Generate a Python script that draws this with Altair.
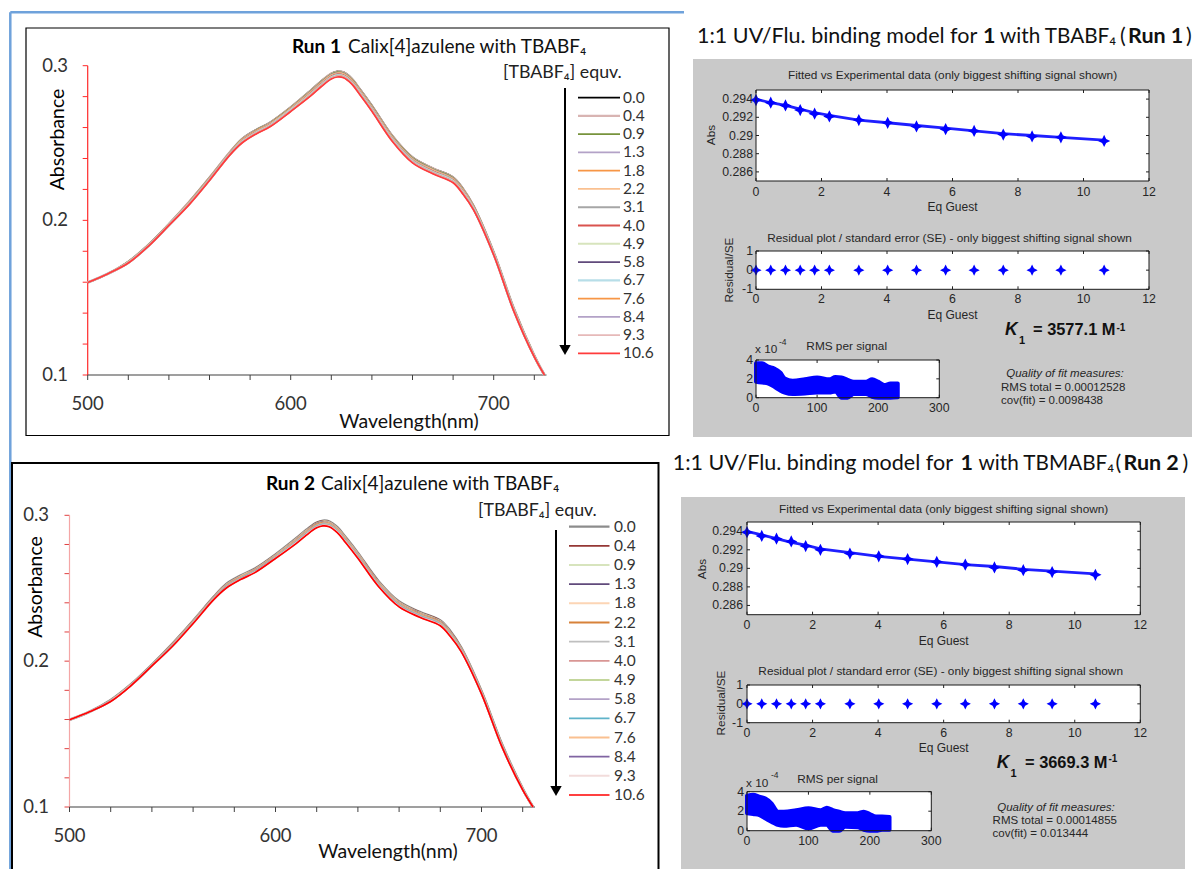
import altair as alt
import pandas as pd

W, H = 1196, 869
EFONT = "Lato, DejaVu Sans, sans-serif"
MFONT = "Liberation Sans, Arial, sans-serif"
MTXT = "#262626"
BLUE = "#0000ff"
GRAY = "#c9c9c9"
MFS = 11.8
STAR = "M0,-1L0.33,-0.33L1,0L0.33,0.33L0,1L-0.33,0.33L-1,0L-0.33,-0.33Z"

# ------------------------------------------------------------------ data
EQUIV_LABELS = ["0.0", "0.4", "0.9", "1.3", "1.8", "2.2", "3.1", "4.0", "4.9",
                "5.8", "6.7", "7.6", "8.4", "9.3", "10.6"]
WAVELENGTH = [500, 510, 520, 530, 540, 550, 560, 570, 576, 583, 590, 600, 610, 615, 620,
              623, 626, 630, 634, 640, 650, 660, 670, 680, 685, 690, 700, 710, 720, 725]
SPECTRA_RUN1 = [
    [0.1598, 0.1655, 0.1733, 0.1843, 0.1976, 0.2120, 0.2276, 0.2440, 0.2527, 0.2586, 0.2634, 0.2731, 0.2842, 0.2900, 0.2950, 0.2963, 0.2958, 0.2918, 0.2850, 0.2742, 0.2548, 0.2408, 0.2337, 0.2279, 0.2203, 0.2096, 0.1794, 0.1428, 0.1126, 0.1000],
    [0.1598, 0.1655, 0.1732, 0.1842, 0.1975, 0.2119, 0.2275, 0.2439, 0.2525, 0.2584, 0.2632, 0.2729, 0.2840, 0.2898, 0.2948, 0.2961, 0.2956, 0.2916, 0.2848, 0.2740, 0.2546, 0.2406, 0.2335, 0.2277, 0.2201, 0.2094, 0.1793, 0.1427, 0.1125, 0.1000],
    [0.1598, 0.1655, 0.1732, 0.1842, 0.1975, 0.2117, 0.2273, 0.2437, 0.2523, 0.2582, 0.2630, 0.2727, 0.2837, 0.2895, 0.2945, 0.2958, 0.2953, 0.2913, 0.2845, 0.2737, 0.2543, 0.2403, 0.2332, 0.2274, 0.2198, 0.2092, 0.1791, 0.1425, 0.1125, 0.1000],
    [0.1598, 0.1655, 0.1731, 0.1841, 0.1974, 0.2115, 0.2271, 0.2435, 0.2520, 0.2579, 0.2627, 0.2724, 0.2833, 0.2891, 0.2941, 0.2954, 0.2949, 0.2909, 0.2841, 0.2733, 0.2539, 0.2399, 0.2328, 0.2270, 0.2194, 0.2089, 0.1789, 0.1423, 0.1124, 0.1000],
    [0.1598, 0.1655, 0.1730, 0.1840, 0.1973, 0.2114, 0.2270, 0.2434, 0.2518, 0.2577, 0.2625, 0.2722, 0.2830, 0.2888, 0.2938, 0.2951, 0.2946, 0.2906, 0.2838, 0.2730, 0.2536, 0.2396, 0.2325, 0.2267, 0.2191, 0.2087, 0.1788, 0.1422, 0.1123, 0.1000],
    [0.1598, 0.1655, 0.1729, 0.1839, 0.1972, 0.2113, 0.2269, 0.2433, 0.2516, 0.2575, 0.2623, 0.2720, 0.2828, 0.2886, 0.2936, 0.2949, 0.2944, 0.2904, 0.2836, 0.2728, 0.2534, 0.2394, 0.2323, 0.2265, 0.2189, 0.2085, 0.1787, 0.1421, 0.1122, 0.1000],
    [0.1598, 0.1655, 0.1728, 0.1838, 0.1971, 0.2111, 0.2267, 0.2431, 0.2513, 0.2572, 0.2620, 0.2717, 0.2824, 0.2882, 0.2932, 0.2945, 0.2940, 0.2900, 0.2832, 0.2724, 0.2530, 0.2390, 0.2319, 0.2261, 0.2185, 0.2082, 0.1785, 0.1419, 0.1121, 0.1000],
    [0.1598, 0.1655, 0.1728, 0.1838, 0.1971, 0.2110, 0.2266, 0.2430, 0.2512, 0.2571, 0.2619, 0.2716, 0.2822, 0.2880, 0.2930, 0.2943, 0.2938, 0.2898, 0.2830, 0.2722, 0.2528, 0.2388, 0.2317, 0.2259, 0.2183, 0.2081, 0.1784, 0.1418, 0.1121, 0.1000],
    [0.1598, 0.1655, 0.1727, 0.1837, 0.1970, 0.2108, 0.2264, 0.2428, 0.2510, 0.2569, 0.2617, 0.2714, 0.2819, 0.2877, 0.2927, 0.2940, 0.2935, 0.2895, 0.2827, 0.2719, 0.2525, 0.2385, 0.2314, 0.2256, 0.2180, 0.2079, 0.1782, 0.1416, 0.1120, 0.1000],
    [0.1598, 0.1655, 0.1726, 0.1836, 0.1969, 0.2107, 0.2263, 0.2427, 0.2507, 0.2566, 0.2614, 0.2711, 0.2816, 0.2874, 0.2924, 0.2937, 0.2932, 0.2892, 0.2824, 0.2716, 0.2522, 0.2382, 0.2311, 0.2253, 0.2177, 0.2076, 0.1781, 0.1415, 0.1119, 0.1000],
    [0.1598, 0.1655, 0.1726, 0.1836, 0.1969, 0.2106, 0.2262, 0.2426, 0.2507, 0.2566, 0.2614, 0.2711, 0.2815, 0.2873, 0.2923, 0.2936, 0.2931, 0.2891, 0.2823, 0.2715, 0.2521, 0.2381, 0.2310, 0.2252, 0.2176, 0.2076, 0.1780, 0.1414, 0.1119, 0.1000],
    [0.1598, 0.1655, 0.1725, 0.1835, 0.1968, 0.2105, 0.2261, 0.2425, 0.2504, 0.2563, 0.2611, 0.2708, 0.2812, 0.2870, 0.2920, 0.2933, 0.2928, 0.2888, 0.2820, 0.2712, 0.2518, 0.2378, 0.2307, 0.2249, 0.2173, 0.2073, 0.1779, 0.1413, 0.1118, 0.1000],
    [0.1598, 0.1655, 0.1725, 0.1835, 0.1968, 0.2104, 0.2260, 0.2424, 0.2503, 0.2562, 0.2610, 0.2707, 0.2810, 0.2868, 0.2918, 0.2931, 0.2926, 0.2886, 0.2818, 0.2710, 0.2516, 0.2376, 0.2305, 0.2247, 0.2171, 0.2072, 0.1778, 0.1412, 0.1118, 0.1000],
    [0.1598, 0.1655, 0.1725, 0.1835, 0.1968, 0.2103, 0.2259, 0.2423, 0.2502, 0.2561, 0.2609, 0.2706, 0.2809, 0.2867, 0.2917, 0.2930, 0.2925, 0.2885, 0.2817, 0.2709, 0.2515, 0.2375, 0.2304, 0.2246, 0.2170, 0.2071, 0.1777, 0.1411, 0.1118, 0.1000],
    [0.1598, 0.1655, 0.1724, 0.1834, 0.1967, 0.2102, 0.2258, 0.2422, 0.2500, 0.2559, 0.2607, 0.2704, 0.2806, 0.2864, 0.2914, 0.2927, 0.2922, 0.2882, 0.2814, 0.2706, 0.2512, 0.2372, 0.2301, 0.2243, 0.2167, 0.2069, 0.1776, 0.1410, 0.1117, 0.1000],
]
SPECTRA_RUN2 = SPECTRA_RUN1  # the second run reads identically at this resolution

EXCEL_Y_TICKS = [0.10, 0.12, 0.14, 0.16, 0.18, 0.20, 0.22, 0.24, 0.26, 0.28, 0.30]
EXCEL_Y_LABELS = [0.1, 0.2, 0.3]
EXCEL_X_TICKS = [500, 520, 540, 560, 580, 600, 620, 640, 660, 680, 700, 720]
EXCEL_X_LABELS = [500, 600, 700]

EQ_GUEST = [0, 0.45, 0.9, 1.35, 1.79, 2.24, 3.14, 4.02, 4.9, 5.79, 6.66, 7.55, 8.43, 9.31, 10.63]
ABS_EXP_RUN1 = [0.2939, 0.2936, 0.2933, 0.2928, 0.2924, 0.2921, 0.2917, 0.2914, 0.2910, 0.2907, 0.2905, 0.2901, 0.2899, 0.2898, 0.2894]
ABS_FIT_RUN1 = [0.2940, 0.2936, 0.2933, 0.2929, 0.2925, 0.2922, 0.2917, 0.2914, 0.2911, 0.2908, 0.2905, 0.2902, 0.2900, 0.2898, 0.2895]
RESID_RUN1 = [0, 0, 0, 0, 0, 0, 0, 0, 0, 0, 0, 0, 0, 0, 0]
ABS_EXP_RUN2 = [0.2939, 0.2935, 0.2932, 0.2929, 0.2924, 0.2920, 0.2916, 0.2913, 0.2910, 0.2907, 0.2904, 0.2901, 0.2898, 0.2896, 0.2893]
ABS_FIT_RUN2 = [0.2940, 0.2936, 0.2932, 0.2928, 0.2925, 0.2921, 0.2917, 0.2913, 0.2910, 0.2907, 0.2904, 0.2902, 0.2899, 0.2897, 0.2894]
RESID_RUN2 = [0, 0, 0, 0, 0, 0, 0, 0, 0, 0, 0, 0, 0, 0, 0]

RMS_SIGNAL_RUN1 = [0, 10, 20, 30, 40, 47, 60, 80, 100, 120, 130, 140, 150, 160, 180, 190, 200, 210, 220, 232]
RMS_HI_RUN1 = [3.65, 3.65, 3.3, 3.1, 2.65, 2.05, 1.8, 1.95, 2.15, 1.95, 2.2, 2.15, 1.9, 1.7, 1.7, 1.95, 1.7, 1.35, 1.5, 1.5]
RMS_LO_RUN1 = [1.7, 1.6, 1.5, 1.15, 0.75, 0.55, 0.4, 0.45, 0.55, 0.55, 0.65, 0.0, 0.0, 0.4, 0.4, 0.1, 0.0, 0.0, 0.0, 0.05]
RMS_SIGNAL_RUN2 = [0, 10, 20, 30, 40, 45, 50, 60, 80, 100, 120, 130, 140, 150, 160, 180, 190, 200, 210, 220, 232]
RMS_HI_RUN2 = [3.6, 3.7, 3.5, 3.3, 2.8, 2.3, 1.95, 1.95, 2.1, 2.3, 2.1, 2.35, 2.1, 1.95, 1.8, 1.8, 1.95, 1.7, 1.45, 1.45, 1.4]
RMS_LO_RUN2 = [1.8, 1.7, 1.6, 1.25, 0.9, 0.75, 0.6, 0.5, 0.6, 0.25, 0.6, 0.6, 0.0, 0.0, 0.4, 0.35, 0.1, 0.0, 0.0, 0.1, 0.1]

EQ_TICKS = [0, 2, 4, 6, 8, 10, 12]
ABS_TICKS = [0.294, 0.292, 0.29, 0.288, 0.286]
ABS_TICK_LABELS = ["0.294", "0.292", "0.29", "0.288", "0.286"]
RES_TICKS = [1, 0, -1]
RMS_Y_TICKS = [4, 2, 0]
RMS_X_TICKS = [0, 100, 200, 300]

K_RUN1, RMS_TOTAL_RUN1, COV_RUN1 = "3577.1", "0.00012528", "0.0098438"
K_RUN2, RMS_TOTAL_RUN2, COV_RUN2 = "3669.3", "0.00014855", "0.013444"

# line styles of the Excel series
COLORS_RUN1 = ["#000000", "#d8b4b2", "#77933c", "#b3a2c7", "#f79646", "#fac090", "#a6a6a6", "#d9534f",
               "#d7e4bd", "#604a7b", "#b7dee8", "#f79646", "#b3a2c7", "#e6b9b8", "#ff3b3b"]
WIDTHS_RUN1 = [1.8, 2.6, 1.8, 1.8, 1.8, 1.8, 1.8, 1.8, 1.8, 1.8, 2.6, 1.8, 1.8, 1.8, 1.7]
COLORS_RUN2 = ["#8c8c8c", "#953735", "#d7e4bd", "#604a7b", "#fcd5b5", "#d7823a", "#bfbfbf", "#d99694",
               "#c3d69b", "#b3a2c7", "#5fb3c9", "#fac090", "#8064a2", "#f2dcdb", "#ff0000"]
WIDTHS_RUN2 = [2.6, 1.8, 2.0, 1.8, 2.0, 1.8, 1.8, 1.8, 1.8, 1.8, 1.8, 1.8, 1.8, 2.0, 1.7]

ONE = pd.DataFrame({"o": [0]})


def S(domain, rng, **kw):
    return alt.Scale(domain=domain, range=rng, nice=False, zero=False, **kw)


def text(s, x, y, size, font, color="#222", align="left", weight="normal",
         style="normal", angle=0, baseline="middle"):
    props = dict(text=s, align=align, baseline=baseline, font=font, fontSize=size,
                 fontWeight=weight, fontStyle=style, color=color)
    if angle:
        props["angle"] = angle
    return alt.Chart(ONE).mark_text(**props).encode(x=alt.value(x), y=alt.value(y))


def seg(x1, y1, x2, y2, color, width=1.0):
    return alt.Chart(ONE).mark_rule(color=color, strokeWidth=width).encode(
        x=alt.value(x1), y=alt.value(y1), x2=alt.value(x2), y2=alt.value(y2))


def rect(x1, y1, x2, y2, fill=None, stroke=None, width=1.0):
    props = {}
    if fill:
        props["fill"] = fill
        props["fillOpacity"] = 1
    else:
        props["fill"] = "#ffffff"
        props["fillOpacity"] = 0
    if stroke:
        props["stroke"] = stroke
        props["strokeWidth"] = width
    return alt.Chart(ONE).mark_rect(**props).encode(
        x=alt.value(x1), y=alt.value(y1), x2=alt.value(x2), y2=alt.value(y2))


# ------------------------------------------------------------------ Excel panel
def excel_panel(G, spectra, colors, widths, run_label):
    xs = S([500, 725], [G["x500"], G["x500"] + 225 * G["pxnm"]])
    ys = S([0.1, 0.3], [G["y01"], G["y03"]])
    L = [rect(*G["box"], stroke="#000000", width=G["boxw"])]
    L.append(alt.Chart(pd.DataFrame({"v": EXCEL_Y_TICKS})).mark_rule(color=G["ytick"], strokeWidth=1)
             .encode(y=alt.Y("v:Q", scale=ys, axis=None),
                     x=alt.value(G["x500"] - 5), x2=alt.value(G["x500"])))
    L.append(alt.Chart(pd.DataFrame({"v": EXCEL_X_TICKS})).mark_rule(color="#404040", strokeWidth=1)
             .encode(x=alt.X("v:Q", scale=xs, axis=None),
                     y=alt.value(G["y01"]), y2=alt.value(G["y01"] + 5)))
    L.append(seg(G["x500"], G["y03"], G["x500"], G["y01"], G["yaxis"], 1.2))
    L.append(seg(G["x500"], G["y01"], G["x500"] + 226 * G["pxnm"], G["y01"], "#404040", 1.2))
    L.append(alt.Chart(pd.DataFrame({"v": EXCEL_Y_LABELS}))
             .mark_text(align="right", baseline="middle", font=EFONT, fontSize=18.5, color="#333333")
             .encode(y=alt.Y("v:Q", scale=ys, axis=None), x=alt.value(G["ylab_x"]),
                     text=alt.Text("v:Q", format=".1f")))
    L.append(alt.Chart(pd.DataFrame({"v": EXCEL_X_LABELS}))
             .mark_text(align="center", baseline="middle", font=EFONT, fontSize=18.5, color="#333333")
             .encode(x=alt.X("v:Q", scale=xs, axis=None), y=alt.value(G["xlab_y"]),
                     text=alt.Text("v:Q", format="d")))
    for k, vals in enumerate(spectra):
        df = pd.DataFrame({"wl": WAVELENGTH, "a": vals})
        L.append(alt.Chart(df).mark_line(color=colors[k], strokeWidth=widths[k], interpolate="catmull-rom")
                 .encode(x=alt.X("wl:Q", scale=xs, axis=None), y=alt.Y("a:Q", scale=ys, axis=None)))
    # legend
    ls = alt.Scale(type="point", domain=EQUIV_LABELS, range=[G["leg_y0"], G["leg_y1"]], padding=0)
    for k, lab in enumerate(EQUIV_LABELS):
        L.append(alt.Chart(pd.DataFrame({"lab": [lab]}))
                 .mark_rule(color=colors[k], strokeWidth=min(widths[k], 2.2))
                 .encode(y=alt.Y("lab:N", scale=ls, axis=None),
                         x=alt.value(G["leg_x0"]), x2=alt.value(G["leg_x1"])))
    L.append(alt.Chart(pd.DataFrame({"lab": EQUIV_LABELS}))
             .mark_text(align="left", baseline="middle", font=EFONT, fontSize=15.5, color="#333333")
             .encode(y=alt.Y("lab:N", scale=ls, axis=None), x=alt.value(G["leg_tx"]), text="lab:N"))
    # arrow
    L.append(seg(G["ax"], G["ay0"], G["ax"], G["ay1"] - 8, "#000000", 2))
    L.append(alt.Chart(ONE).mark_point(shape="triangle-down", filled=True, color="#000000", size=130, opacity=1)
             .encode(x=alt.value(G["ax"]), y=alt.value(G["ay1"] - 5)))
    # texts
    L.append(text(run_label, G["tb_x"], G["t_base"], 19, EFONT, "#000000", weight="bold", baseline="alphabetic"))
    L.append(text("Calix[4]azulene with TBABF\u2084", G["t_x"], G["t_base"], 19, EFONT, "#111111", baseline="alphabetic"))
    L.append(text("[TBABF\u2084] equv.", G["lt_x"], G["lt_base"], 17.8, EFONT, "#222222", baseline="alphabetic"))
    L.append(text("Absorbance", G["ytt"][0], G["ytt"][1], 19.5, EFONT, "#000000", align="center", angle=270))
    L.append(text("Wavelength(nm)", G["xtt"][0], G["xtt"][1], 19.5, EFONT, "#111111", align="center"))
    return L


# ------------------------------------------------------------------ MATLAB panel
def mticks(xs, ys, xt, yt, box, ln=3):
    x0, y0, x1, y1 = box
    dx = pd.DataFrame({"v": xt})
    dy = pd.DataFrame({"v": yt})
    out = []
    for ya, yb in ((y1, y1 - ln), (y0, y0 + ln)):
        out.append(alt.Chart(dx).mark_rule(color="#222222", strokeWidth=1)
                   .encode(x=alt.X("v:Q", scale=xs, axis=None), y=alt.value(ya), y2=alt.value(yb)))
    for xa, xb in ((x0, x0 + ln), (x1, x1 - ln)):
        out.append(alt.Chart(dy).mark_rule(color="#222222", strokeWidth=1)
                   .encode(y=alt.Y("v:Q", scale=ys, axis=None), x=alt.value(xa), x2=alt.value(xb)))
    return out


def xlabels(xs, vals, y):
    return (alt.Chart(pd.DataFrame({"v": vals}))
            .mark_text(align="center", baseline="middle", font=MFONT, fontSize=12.3, color=MTXT)
            .encode(x=alt.X("v:Q", scale=xs, axis=None), y=alt.value(y), text=alt.Text("v:Q", format="d")))


def ylabels(ys, vals, labels, x):
    return (alt.Chart(pd.DataFrame({"v": vals, "t": labels}))
            .mark_text(align="right", baseline="middle", font=MFONT, fontSize=12.3, color=MTXT)
            .encode(y=alt.Y("v:Q", scale=ys, axis=None), x=alt.value(x), text="t:N"))


def matlab_panel(G, exp_abs, fit_abs, resid, rms_x, rms_hi, rms_lo, kval, rms_total, cov_fit, title_parts):
    L = [rect(*G["gray"], fill=GRAY)]
    # title above the screenshot
    for (s, x, bold, fs) in title_parts:
        L.append(text(s, x, G["title_base"], fs, EFONT, "#111111",
                      weight="bold" if bold else "normal", baseline="alphabetic"))
    # ---- plot 1: fitted vs experimental
    b1 = G["p1"]
    xs1 = S([0, 12], [b1[0], b1[2]])
    ys1 = S([0.285, 0.295], [b1[3], b1[1]])
    L.append(rect(*b1, fill="#ffffff"))
    L += mticks(xs1, ys1, EQ_TICKS, ABS_TICKS, b1)
    fit_df = pd.DataFrame({"eq": EQ_GUEST, "fit": fit_abs, "exp": exp_abs, "res": resid})
    L.append(alt.Chart(fit_df).mark_line(color=BLUE, strokeWidth=2.8, opacity=0.88)
             .encode(x=alt.X("eq:Q", scale=xs1, axis=None), y=alt.Y("fit:Q", scale=ys1, axis=None)))
    L.append(alt.Chart(fit_df).mark_point(shape=STAR, filled=True, size=150, color=BLUE, opacity=1)
             .encode(x=alt.X("eq:Q", scale=xs1, axis=None), y=alt.Y("exp:Q", scale=ys1, axis=None)))
    L.append(rect(*b1, stroke="#1a1a1a", width=1))
    L.append(xlabels(xs1, EQ_TICKS, G["xl1_y"]))
    L.append(ylabels(ys1, ABS_TICKS, ABS_TICK_LABELS, G["ylab_x"]))
    L.append(text("Fitted vs Experimental data (only biggest shifting signal shown)",
                  (b1[0] + b1[2]) / 2, G["t1_y"], MFS, MFONT, MTXT, align="center"))
    L.append(text("Eq Guest", (b1[0] + b1[2]) / 2, G["eg1_y"], 12, MFONT, MTXT, align="center"))
    L.append(text("Abs", G["abs"][0], G["abs"][1], MFS, MFONT, MTXT, align="center", angle=270))
    # ---- plot 2: residuals
    b2 = G["p2"]
    xs2 = S([0, 12], [b2[0], b2[2]])
    ys2 = S([-1, 1], [b2[3], b2[1]])
    L.append(rect(*b2, fill="#ffffff"))
    L += mticks(xs2, ys2, EQ_TICKS, RES_TICKS, b2)
    L.append(alt.Chart(fit_df).mark_point(shape=STAR, filled=True, size=125, color=BLUE, opacity=1)
             .encode(x=alt.X("eq:Q", scale=xs2, axis=None), y=alt.Y("res:Q", scale=ys2, axis=None)))
    L.append(rect(*b2, stroke="#1a1a1a", width=1))
    L.append(xlabels(xs2, EQ_TICKS, G["xl2_y"]))
    L.append(ylabels(ys2, RES_TICKS, [str(v) for v in RES_TICKS], G["ylab_x"]))
    L.append(text("Residual plot / standard error (SE) - only biggest shifting signal shown",
                  (b2[0] + b2[2]) / 2 - 3, G["t2_y"], MFS, MFONT, MTXT, align="center"))
    L.append(text("Eq Guest", (b2[0] + b2[2]) / 2, G["eg2_y"], 12, MFONT, MTXT, align="center"))
    L.append(text("Residual/SE", G["res"][0], G["res"][1], MFS, MFONT, MTXT, align="center", angle=270))
    # ---- K1
    kx, kb, sx, sy, ex, px, py = G["k"]
    L.append(text("K", kx, kb, 17.5, MFONT, "#111111", weight="bold", style="italic", baseline="alphabetic"))
    L.append(text("1", sx, sy, 11, MFONT, "#111111", weight="bold"))
    L.append(text("= " + kval + " M", ex, kb, 16.4, MFONT, "#111111", weight="bold", baseline="alphabetic"))
    L.append(text("-1", px, py, 10, MFONT, "#111111", weight="bold"))
    # ---- plot 3: RMS per signal
    b3 = G["p3"]
    xs3 = S([0, 300], [b3[0], b3[2]])
    ys3 = S([0, 4], [b3[3], b3[1]])
    L.append(rect(*b3, fill="#ffffff"))
    L += mticks(xs3, ys3, RMS_X_TICKS, RMS_Y_TICKS, b3)
    rms_df = pd.DataFrame({"s": rms_x, "hi": rms_hi, "lo": rms_lo})
    L.append(alt.Chart(rms_df).mark_area(color=BLUE, interpolate="monotone", stroke=BLUE, strokeWidth=4,
                                         strokeJoin="round", opacity=1)
             .encode(x=alt.X("s:Q", scale=xs3, axis=None), y=alt.Y("hi:Q", scale=ys3, axis=None),
                     y2="lo:Q"))
    L.append(rect(*b3, stroke="#1a1a1a", width=1))
    L.append(xlabels(xs3, RMS_X_TICKS, G["xl3_y"]))
    L.append(ylabels(ys3, RMS_Y_TICKS, [str(v) for v in RMS_Y_TICKS], G["ylab3_x"]))
    L.append(text("RMS per signal", G["t3"][0], G["t3"][1], MFS, MFONT, MTXT, align="center"))
    L.append(text("x 10", G["x10"][0], G["x10"][1], MFS, MFONT, MTXT))
    L.append(text("-4", G["x10"][2], G["x10"][3], 8.5, MFONT, MTXT))
    # ---- quality of fit
    qx, qy, lx, ry, cy = G["q"]
    L.append(text("Quality of fit measures:", qx, qy, 11.5, MFONT, MTXT, align="center", style="italic"))
    L.append(text("RMS total = " + rms_total, lx, ry, 11.5, MFONT, MTXT))
    L.append(text("cov(fit) = " + cov_fit, lx, cy, 11.5, MFONT, MTXT))
    return L


# ------------------------------------------------------------------ layout
G_EX1 = dict(box=(26, 28, 669, 435.5), boxw=1.2, x500=87.7, pxnm=2.03, y01=375, y03=65.7,
             yaxis="#ff2a2a", ytick="#ff2a2a", ylab_x=68, xlab_y=404, xtt=(409, 422), ytt=(58, 139.5),
             tb_x=292, t_x=348, t_base=53, lt_x=503, lt_base=78,
             ax=565, ay0=88, ay1=355, leg_x0=578, leg_x1=620, leg_tx=623, leg_y0=97.6, leg_y1=353.4)
G_EX2 = dict(box=(12, 463, 658.5, 880), boxw=2, x500=69.5, pxnm=2.06, y01=807, y03=515.3,
             yaxis="#f4a6a6", ytick="#e04040", ylab_x=49, xlab_y=836, xtt=(388, 852), ytt=(36, 587),
             tb_x=266, t_x=321, t_base=490, lt_x=478, lt_base=515.7,
             ax=556, ay0=530, ay1=796, leg_x0=569, leg_x1=609.5, leg_tx=614, leg_y0=526.7, leg_y1=795)

G_M1 = dict(gray=(693, 59, 1192, 437), title_base=42.5,
            p1=(756, 90, 1149, 181), t1_y=75, xl1_y=192, eg1_y=207, abs=(711, 135), ylab_x=753,
            p2=(756, 251, 1149, 289.3), t2_y=237.7, xl2_y=299.3, eg2_y=315, res=(729, 270),
            k=(1005, 335, 1019, 340.5, 1033, 1116.5, 327.5),
            p3=(756, 360, 939.3, 397.7), t3=(846.7, 345.7), x10=(755, 349.3, 779, 341.7), xl3_y=407.7,
            ylab3_x=753, q=(1065, 374, 1001, 387.7, 401))
G_M2 = dict(gray=(681, 497, 1185, 880), title_base=469.5,
            p1=(747, 522, 1140.3, 614.7), t1_y=509.4, xl1_y=625, eg1_y=640.7, abs=(702, 569), ylab_x=743,
            p2=(747, 685, 1140.3, 722.7), t2_y=671, xl2_y=733.3, eg2_y=748.3, res=(720.6, 703),
            k=(996.7, 768, 1010.5, 773.5, 1025, 1108.5, 759),
            p3=(747, 791.7, 931.3, 830.7), t3=(837.6, 779.3), x10=(746, 782.7, 771, 775), xl3_y=840.7,
            ylab3_x=744, q=(1056, 807.7, 992.6, 821, 834.3))

TITLE_M1 = [("1:1 UV/Flu. binding model for ", 697, False, 21.5), ("1", 983, True, 21.5),
            ("with TBABF\u2084", 1000, False, 20.7), ("(", 1120, False, 21.5), ("Run 1", 1128, True, 21.5),
            (")", 1186, False, 21.5)]
TITLE_M2 = [("1:1 UV/Flu. binding model for ", 672.7, False, 21.5), ("1", 960.6, True, 21.5),
            ("with TBMABF\u2084", 978.5, False, 20.7), ("(", 1115.5, False, 21.5), ("Run 2", 1123.5, True, 21.5),
            (")", 1182.5, False, 21.5)]

layers = []
layers.append(seg(10.3, 12.2, 684, 12.2, "#6fa2db", 2.5))
layers.append(seg(10.3, 12.2, 10.3, 869, "#6fa2db", 2.5))
layers += excel_panel(G_EX1, SPECTRA_RUN1, COLORS_RUN1, WIDTHS_RUN1, "Run 1")
layers += excel_panel(G_EX2, SPECTRA_RUN2, COLORS_RUN2, WIDTHS_RUN2, "Run 2")
layers += matlab_panel(G_M1, ABS_EXP_RUN1, ABS_FIT_RUN1, RESID_RUN1, RMS_SIGNAL_RUN1, RMS_HI_RUN1,
                       RMS_LO_RUN1, K_RUN1, RMS_TOTAL_RUN1, COV_RUN1, TITLE_M1)
layers += matlab_panel(G_M2, ABS_EXP_RUN2, ABS_FIT_RUN2, RESID_RUN2, RMS_SIGNAL_RUN2, RMS_HI_RUN2,
                       RMS_LO_RUN2, K_RUN2, RMS_TOTAL_RUN2, COV_RUN2, TITLE_M2)

chart = (alt.layer(*layers)
         .resolve_scale(x="independent", y="independent")
         .properties(width=W, height=H, padding=0, autosize="none", background="#ffffff")
         .configure_view(stroke=None))

chart.save("out.html", embed_options={"renderer": "svg", "actions": False})
